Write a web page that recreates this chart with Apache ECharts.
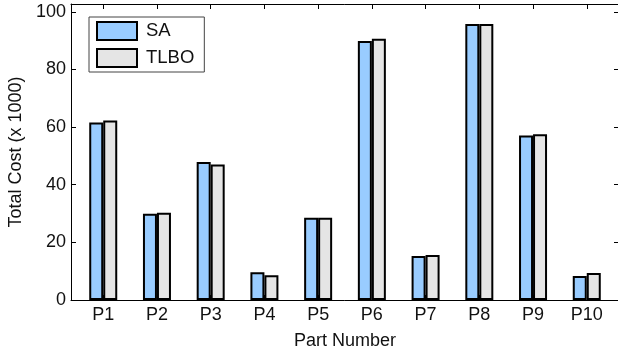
<!DOCTYPE html>
<html>
<head>
<meta charset="utf-8">
<script src="https://cdn.jsdelivr.net/npm/echarts@6/dist/echarts.min.js"></script>
<style>html,body{margin:0;padding:0;background:#fff}#c{width:618px;height:351px}</style>
</head>
<body>
<div id="c"></div>
<script>
const categories = ['P1','P2','P3','P4','P5','P6','P7','P8','P9','P10'];
const saValues   = [61.6, 29.9, 47.9, 9.6, 28.5, 89.9, 15.3, 95.8, 57.1, 8.3];
const tlboValues = [62.3, 30.3, 47.0, 8.6, 28.5, 90.6, 15.6, 95.8, 57.5, 9.4];
const yTicks = [0, 20, 40, 60, 80, 100];
const xPositions = categories.map((c, i) => i + 1);

const font = 'Liberation Sans';
const chart = echarts.init(document.getElementById('c'), null, {renderer: 'canvas'});
const lineStyle = {color: '#000', width: 1};
chart.setOption({
  animation: false,
  textStyle: {fontFamily: font, color: '#111'},
  grid: {left: 71, right: -1, top: 4, bottom: 51, containLabel: false, outerBoundsMode: 'none'},
  legend: {
    orient: 'vertical', left: 89, top: 17,
    icon: 'rect', itemWidth: 40, itemHeight: 18, itemGap: 7,
    padding: [4, 10, 4, 7],
    backgroundColor: '#fff', borderColor: '#444', borderWidth: 1,
    textStyle: {fontFamily: font, fontSize: 18.5, color: '#111', padding: [0, 0, 0, 4]},
    data: ['SA', 'TLBO']
  },
  xAxis: [{
    type: 'value', min: 0.4, max: 10.6, position: 'bottom',
    name: 'Part Number', nameLocation: 'middle', nameGap: 32,
    nameTextStyle: {fontFamily: font, fontSize: 18, color: '#111'},
    axisLine: {show: true, lineStyle},
    axisTick: {show: true, inside: true, length: 5, lineStyle, customValues: xPositions},
    axisLabel: {fontFamily: font, fontSize: 18, color: '#111', margin: 6, customValues: xPositions,
      formatter: v => categories[Math.round(v) - 1]},
    splitLine: {show: false}
  }, {
    type: 'value', min: 0.4, max: 10.6, position: 'top',
    axisLine: {show: true, onZero: false, lineStyle},
    axisTick: {show: true, inside: true, length: 5, lineStyle, customValues: xPositions},
    axisLabel: {show: false},
    splitLine: {show: false}
  }],
  yAxis: [{
    type: 'value', min: 0, max: 102.7, position: 'left',
    name: 'Total Cost (x 1000)', nameLocation: 'middle', nameGap: 45,
    nameTextStyle: {fontFamily: font, fontSize: 18, color: '#111'},
    axisLine: {show: true, lineStyle},
    axisTick: {show: true, inside: true, length: 5, lineStyle, customValues: yTicks},
    axisLabel: {fontFamily: font, fontSize: 18, color: '#111', margin: 5, customValues: yTicks},
    splitLine: {show: false}
  }, {
    type: 'value', min: 0, max: 102.7, position: 'right',
    axisLine: {show: true, onZero: false, lineStyle},
    axisTick: {show: true, inside: true, length: 5, lineStyle, customValues: yTicks},
    axisLabel: {show: false},
    splitLine: {show: false}
  }],
  series: [{
    name: 'SA', type: 'bar', xAxisIndex: 0, yAxisIndex: 0,
    barWidth: 14, barGap: '0%',
    itemStyle: {color: '#99ccff', borderColor: '#000', borderWidth: 2},
    data: saValues.map((v, i) => [xPositions[i], v])
  }, {
    name: 'TLBO', type: 'bar', xAxisIndex: 0, yAxisIndex: 0,
    barWidth: 14, barGap: '0%',
    itemStyle: {color: '#e5e5e5', borderColor: '#000', borderWidth: 2},
    data: tlboValues.map((v, i) => [xPositions[i], v])
  }]
});
</script>
</body>
</html>
